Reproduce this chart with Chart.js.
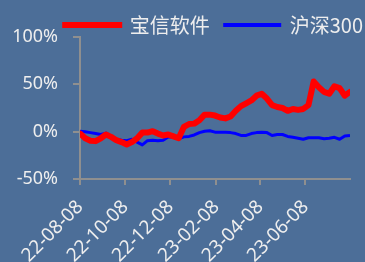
<!DOCTYPE html>
<html>
<head>
<meta charset="utf-8">
<script src="https://cdn.jsdelivr.net/npm/chart.js@4"></script>
<style>
  html, body { margin: 0; padding: 0; background: #4c6e98; }
  #wrap { width: 365px; height: 262px; }
</style>
</head>
<body>
<div id="wrap"><canvas id="chart"></canvas></div>
<script>
// weekly closes, % change since 2022-08-08
const startDate = "2022-08-08";
const baoxin = [-2, -7, -9.5, -10, -7, -3, -5.5, -9, -11, -13.5, -11, -7, -1, -1, 0.5, -2, -4, -3, -5, -7,
  5, 8, 8.5, 12, 18, 18, 17, 15, 14, 16, 22, 27, 30, 33, 38, 40, 35, 28, 26, 25, 22, 24, 23, 24, 28,
  53, 47, 42, 40, 48, 46, 38, 42];
const hs300 = [0.5, 0, -1, -2, -3, -1.5, -5, -8, -9, -9.5, -8, -11, -14, -9.5, -9, -9.5, -9, -5.5, -6, -7.5,
  -5.5, -5, -3.5, -1, 0.5, 1, -0.5, -0.7, -0.7, -1, -2, -4, -4, -2, -1, -0.5, -1, -4, -3, -3, -5, -6, -7, -8,
  -6.5, -6.5, -6.5, -7.5, -7, -6, -8, -4.5, -4];
const tickLabels = ["22-08-08", "22-10-08", "22-12-08", "23-02-08", "23-04-08", "23-06-08"];
const yTicks = [-50, 0, 50, 100];

const DAY = 86400000;
const t0 = new Date(startDate).getTime();
const dates = baoxin.map((v, i) => new Date(t0 + i * 7 * DAY));
const dayOf = (d) => Math.round((d.getTime() - t0) / DAY);
const tickDays = tickLabels.map(s => dayOf(new Date("20" + s)));

const toPoints = (arr) => arr.map((v, i) => ({ x: dayOf(dates[i]), y: v }));

const axisColor = "#8f8f8f";
const textColor = "#eeeeee";

// nudge the legend a bit to the right, like the original
const legendShift = {
  id: "legendShift",
  afterLayout(chart) {
    const lg = chart.legend;
    if (!lg) return;
    lg.left += 13;
    lg.right += 13;
  }
};

new Chart(document.getElementById("chart"), {
  type: "line",
  data: {
    datasets: [
      {
        label: "宝信软件",
        data: toPoints(baoxin),
        borderColor: "#ff0000",
        backgroundColor: "#ff0000",
        borderWidth: 6,
        borderJoinStyle: "round",
        borderCapStyle: "round",
        pointRadius: 0,
        tension: 0
      },
      {
        label: "沪深300",
        data: toPoints(hs300),
        borderColor: "#0000ff",
        backgroundColor: "#0000ff",
        borderWidth: 3,
        borderJoinStyle: "round",
        pointRadius: 0,
        tension: 0
      }
    ]
  },
  plugins: [legendShift],
  options: {
    responsive: true,
    maintainAspectRatio: false,
    animation: false,
    layout: { padding: 0 },
    plugins: {
      tooltip: { enabled: false },
      legend: {
        align: "end",
        maxHeight: 37,
        labels: {
          color: textColor,
          boxWidth: 55,
          boxHeight: 1,
          padding: 15,
          font: { family: "Noto Sans CJK SC", size: 20 },
          generateLabels(chart) {
            return chart.data.datasets.map((ds, i) => ({
              text: ds.label,
              fillStyle: ds.borderColor,
              strokeStyle: ds.borderColor,
              lineWidth: i === 0 ? 5 : 3,
              lineCap: "round",
              fontColor: textColor,
              datasetIndex: i
            }));
          }
        }
      }
    },
    scales: {
      x: {
        type: "linear",
        min: 0,
        max: 364,
        afterBuildTicks(axis) {
          axis.ticks = tickDays.map(v => ({ value: v }));
        },
        afterFit(axis) {
          axis.height = 83;
          axis.paddingLeft = 0;
        },
        grid: { drawOnChartArea: false, color: axisColor, tickLength: 6, lineWidth: 2 },
        border: { color: axisColor, width: 2 },
        ticks: {
          color: textColor,
          font: { family: "Noto Sans", size: 19 },
          minRotation: 45,
          maxRotation: 45,
          autoSkip: false,
          padding: 11,
          callback(v) {
            const i = tickDays.indexOf(v);
            return i >= 0 ? tickLabels[i] : "";
          }
        }
      },
      y: {
        min: -50,
        max: 100,
        afterBuildTicks(axis) {
          axis.ticks = yTicks.map(v => ({ value: v }));
        },
        afterFit(axis) {
          axis.width = 80;
        },
        grid: { drawOnChartArea: false, color: axisColor, tickLength: 7, lineWidth: 2 },
        border: { color: axisColor, width: 2 },
        ticks: {
          color: textColor,
          font: { family: "Noto Sans", size: 18 },
          padding: 15,
          callback: (v) => v + "%"
        }
      },
      // empty right axis, only reserves the gap after the plot
      yRight: {
        position: "right",
        display: true,
        afterFit(axis) {
          axis.width = 15;
        },
        grid: { display: false },
        border: { display: false },
        ticks: { display: false }
      }
    }
  }
});
</script>
</body>
</html>
